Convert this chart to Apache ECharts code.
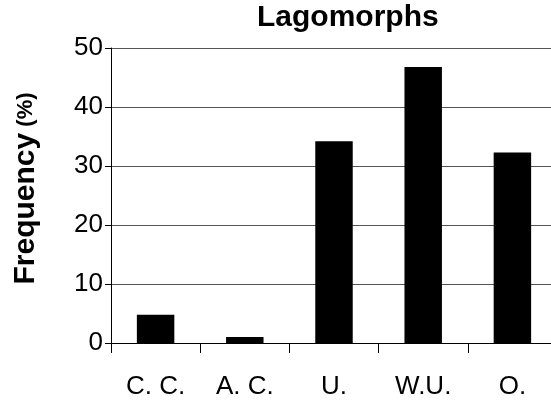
<!DOCTYPE html>
<html>
<head>
<meta charset="utf-8">
<script src="https://cdn.jsdelivr.net/npm/echarts@6/dist/echarts.min.js"></script>
<style>
  html, body { margin: 0; padding: 0; background: #fff; }
  #chart { width: 551px; height: 402px; }
</style>
</head>
<body>
<div id="chart"></div>
<script>
// data
const categories = ['C. C.', 'A. C.', 'U.', 'W.U.', 'O.'];
const frequency = [4.8, 1.0, 34.2, 46.8, 32.3];
const yTicks = [0, 10, 20, 30, 40, 50];

const font = "'Liberation Sans', Arial, sans-serif";

const myChart = echarts.init(document.getElementById('chart'));

const option = {
  animation: false,
  backgroundColor: '#ffffff',
  title: {
    text: 'Lagomorphs',
    left: 257,
    top: 3,
    padding: 0,
    textStyle: {
      fontFamily: font,
      fontWeight: 'bold',
      fontSize: 30,
      color: '#000'
    }
  },
  grid: {
    left: 111,
    right: -6,
    top: 48,
    bottom: 59,
    containLabel: false,
    outerBoundsMode: 'none'
  },
  xAxis: {
    type: 'category',
    data: categories,
    axisLine: { lineStyle: { color: '#000', width: 1 } },
    axisTick: { show: true, length: 10, lineStyle: { color: '#000' } },
    axisLabel: {
      margin: 31,
      color: '#000',
      fontFamily: font,
      fontSize: 26
    },
    splitLine: { show: false }
  },
  yAxis: {
    type: 'value',
    min: yTicks[0],
    max: yTicks[yTicks.length - 1],
    interval: 10,
    name: '{a|Frequency}{s| }{b|(%)}',
    nameLocation: 'middle',
    nameRotate: 90,
    nameGap: 70,
    nameTextStyle: {
      padding: [0, 0, 0, 14],
      rich: {
        a: { fontFamily: font, fontWeight: 'bold', fontSize: 30, color: '#000' },
        s: { fontFamily: font, fontSize: 22, color: '#000' },
        b: { fontFamily: font, fontWeight: 'bold', fontSize: 22, color: '#000' }
      }
    },
    axisLine: { show: true, lineStyle: { color: '#000', width: 1 } },
    axisTick: { show: true, length: 6, lineStyle: { color: '#000' } },
    axisLabel: {
      margin: 8,
      color: '#000',
      fontFamily: font,
      fontSize: 26
    },
    splitLine: { show: true, lineStyle: { color: '#555', width: 1 } }
  },
  series: [
    {
      name: 'Frequency',
      type: 'bar',
      data: frequency,
      barWidth: '42%',
      itemStyle: { color: '#000' }
    }
  ]
};

myChart.setOption(option);
</script>
</body>
</html>
